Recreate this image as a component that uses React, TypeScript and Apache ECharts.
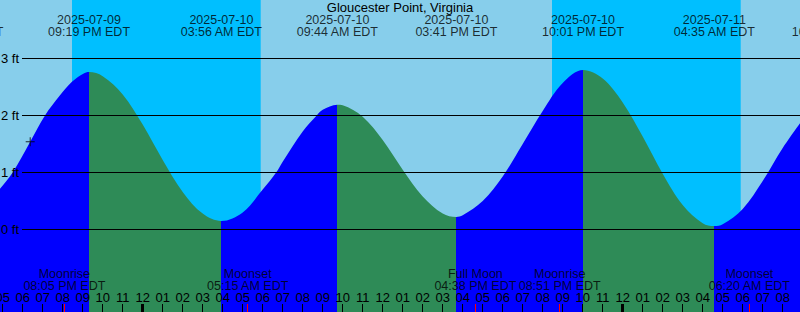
import React, { useEffect, useRef } from "react";
import * as echarts from "echarts";

const TITLE = "Gloucester Point, Virginia";
const FONT = "Liberation Sans, Arial, sans-serif";

// time axis: hours relative to 2025-07-10 00:00 EDT
const X_MIN = -7.135;
const X_MAX = 32.865;
// height axis (feet)
const Y_MIN = -1.4474;
const Y_MAX = 4.0263;

// tide curve
const tideHours = [
  -7.5, -7.135, -6.5, -5.625, -4.885, -4.135, -3.55, -2.97, -2.683, -2, -1, 0, 1, 2, 3, 3.93,
  5, 6, 6.67, 7, 8, 8.7, 9, 9.73, 10, 11, 12, 13, 14, 15, 15.68,
  16, 17, 18, 19, 20, 21, 22.02, 23, 24, 25, 26, 27, 28, 28.58,
  29, 30, 31, 32, 33,
];
const tideFeet = [
  0.57, 0.716, 1.0, 1.54, 2.0, 2.354, 2.588, 2.733, 2.763, 2.69, 2.37, 1.84, 1.22, 0.66, 0.28, 0.15,
  0.3, 0.7, 1.0, 1.19, 1.72, 2.0, 2.1, 2.19, 2.18, 1.98, 1.57, 1.05, 0.58, 0.28, 0.22,
  0.25, 0.5, 0.93, 1.5, 2.08, 2.57, 2.8, 2.65, 2.23, 1.63, 0.98, 0.43, 0.11, 0.06,
  0.09, 0.36, 0.85, 1.43, 1.93,
];

// high / low tide turning points (hours) and kind
const extremeHours = [-2.683, 3.933, 9.733, 15.683, 22.017, 28.583];
const extremeKinds = ["high", "low", "high", "low", "high", "low"];

// tide event labels along the top
const eventHours = [-9.01, -2.683, 3.933, 9.733, 15.683, 22.017, 28.583, 34.49];
const eventDates = [
  "2025-07-09", "2025-07-09", "2025-07-10", "2025-07-10",
  "2025-07-10", "2025-07-10", "2025-07-11", "2025-07-11",
];
const eventClock = [
  "02:59 PM EDT", "09:19 PM EDT", "03:56 AM EDT", "09:44 AM EDT",
  "03:41 PM EDT", "10:01 PM EDT", "04:35 AM EDT", "10:29 AM EDT",
];

// night bands
const sunsetHours = [-3.535, 20.465];
const sunriseHours = [5.9, 29.9];

// moon events
const moonHours = [-3.917, 5.25, 16.633, 20.85, 30.333];
const moonNames = ["Moonrise", "Moonset", "Full Moon", "Moonrise", "Moonset"];
const moonClock = ["08:05 PM EDT", "05:15 AM EDT", "04:38 PM EDT", "08:51 PM EDT", "06:20 AM EDT"];

// hour ticks
const firstHour = -7;
const hourLabels = [
  "05", "06", "07", "08", "09", "10", "11", "12",
  "01", "02", "03", "04", "05", "06", "07", "08", "09", "10", "11", "12",
  "01", "02", "03", "04", "05", "06", "07", "08", "09", "10", "11", "12",
  "01", "02", "03", "04", "05", "06", "07", "08",
];
const midnightHours = [0, 24];

// "+" mark on the curve
const markHour = -5.625;
const markFeet = 1.54;

const RISING = "#0000FF";
const FALLING = "#2E8B57";
const DAY = "#87CEEB";
const NIGHT = "#00BFFF";

export default function App() {
  const ref = useRef<HTMLDivElement>(null);

  useEffect(() => {
    if (!ref.current) return;
    const chart = echarts.init(ref.current, undefined, { renderer: "svg" });

    const hourTicks = hourLabels.map((_, i) => firstHour + i);
    const tideData = tideHours.map((h, i) => [h, tideFeet[i]]);

    const pieces: any[] = [];
    let prev = X_MIN - 20;
    extremeHours.forEach((h, i) => {
      pieces.push({ gte: prev, lt: h, color: extremeKinds[i] === "high" ? RISING : FALLING });
      prev = h;
    });
    pieces.push({
      gte: prev,
      lte: X_MAX + 20,
      color: extremeKinds[extremeKinds.length - 1] === "high" ? FALLING : RISING,
    });

    const nightAreas = sunsetHours.map((s, i) => [{ xAxis: s }, { xAxis: sunriseHours[i] }]);

    const hiddenTick = {
      axisLine: { show: false, onZero: false },
      splitLine: { show: false },
      axisLabel: { show: false },
    };

    chart.setOption({
      animation: false,
      backgroundColor: DAY,
      textStyle: { fontFamily: FONT },
      title: {
        text: TITLE,
        left: "center",
        top: 0,
        padding: [1, 0, 0, 0],
        textStyle: { fontSize: 13, fontWeight: "normal", color: "#000", fontFamily: FONT, lineHeight: 13 },
      },
      grid: [
        { left: 0, right: 0, top: 0, bottom: 0, outerBoundsMode: "none" },
        { left: 22, right: 0, top: 58.5, bottom: 82.5, outerBoundsMode: "none" },
      ],
      visualMap: {
        show: false,
        type: "piecewise",
        dimension: 0,
        seriesIndex: 0,
        pieces,
        outOfRange: { color: RISING },
      },
      xAxis: [
        {
          gridIndex: 0,
          type: "value",
          min: X_MIN,
          max: X_MAX,
          position: "bottom",
          z: 5,
          axisLine: { show: false, onZero: false },
          splitLine: { show: false },
          axisTick: {
            show: true,
            inside: true,
            length: 8,
            customValues: hourTicks,
            lineStyle: { color: "#000", width: 1 },
          },
          axisLabel: {
            show: true,
            inside: true,
            margin: 8,
            customValues: hourTicks,
            formatter: (v: number) => hourLabels[Math.round(v) - firstHour] ?? "",
            color: "#000",
            fontSize: 13,
            fontFamily: FONT,
          },
        },
        {
          gridIndex: 0,
          type: "value",
          min: X_MIN,
          max: X_MAX,
          position: "bottom",
          offset: 0,
          z: 6,
          ...hiddenTick,
          axisTick: {
            show: true,
            inside: true,
            length: 8,
            customValues: midnightHours,
            lineStyle: { color: "#000", width: 3 },
          },
        },
        {
          gridIndex: 0,
          type: "value",
          min: X_MIN,
          max: X_MAX,
          position: "bottom",
          offset: 0,
          z: 6,
          ...hiddenTick,
          axisTick: {
            show: true,
            inside: true,
            length: 8,
            customValues: moonHours,
            lineStyle: { color: "#FF0000", width: 1 },
          },
        },
        { gridIndex: 1, type: "value", min: X_MIN, max: X_MAX, show: false, axisLine: { onZero: false } },
      ],
      yAxis: [
        { gridIndex: 0, type: "value", min: Y_MIN, max: Y_MAX, show: false, axisLine: { onZero: false } },
        {
          gridIndex: 1,
          type: "value",
          min: 0,
          max: 3,
          interval: 1,
          z: 5,
          axisLine: { show: false, onZero: false },
          axisTick: { show: false },
          splitLine: { show: true, lineStyle: { color: "#000", width: 1 } },
          axisLabel: {
            formatter: "{value} ft",
            color: "#000",
            fontSize: 13,
            fontFamily: FONT,
            margin: 3,
          },
        },
      ],
      series: [
        {
          type: "line",
          xAxisIndex: 0,
          yAxisIndex: 0,
          data: tideData,
          smooth: 0.35,
          showSymbol: false,
          z: 2,
          lineStyle: { width: 0 },
          areaStyle: { opacity: 1, origin: "start" },
          markArea: {
            silent: true,
            z: 1,
            itemStyle: { color: NIGHT, opacity: 1 },
            data: nightAreas,
          },
        },
        {
          type: "scatter",
          xAxisIndex: 0,
          yAxisIndex: 0,
          clip: false,
          symbol: "circle",
          symbolSize: 1,
          itemStyle: { color: "transparent" },
          z: 5,
          data: eventHours.map((h, i) => ({ value: [h, Y_MAX], name: eventDates[i] + "\n" + eventClock[i] })),
          label: {
            show: true,
            position: "bottom",
            distance: 13.5,
            formatter: "{b}",
            color: "#000",
            fontSize: 12.5,
            lineHeight: 12,
            fontFamily: FONT,
            align: "center",
          },
        },
        {
          type: "scatter",
          xAxisIndex: 0,
          yAxisIndex: 0,
          clip: false,
          symbol: "circle",
          symbolSize: 1,
          itemStyle: { color: "transparent" },
          z: 5,
          data: moonHours.map((h, i) => ({ value: [h, Y_MIN], name: moonNames[i] + "\n" + moonClock[i] })),
          label: {
            show: true,
            position: "top",
            distance: 19.5,
            formatter: "{b}",
            color: "#000",
            fontSize: 12.5,
            lineHeight: 12,
            fontFamily: FONT,
            align: "center",
          },
        },
        {
          type: "scatter",
          xAxisIndex: 0,
          yAxisIndex: 0,
          z: 6,
          symbol: "path://M4,0H5V4H9V5H5V9H4V5H0V4H4Z",
          symbolSize: 9,
          itemStyle: { color: "#000" },
          data: [[markHour, markFeet]],
        },
      ],
    });

    return () => chart.dispose();
  }, []);

  return <div ref={ref} style={{ position: "absolute", left: 0, top: 0, width: 800, height: 312 }} />;
}
